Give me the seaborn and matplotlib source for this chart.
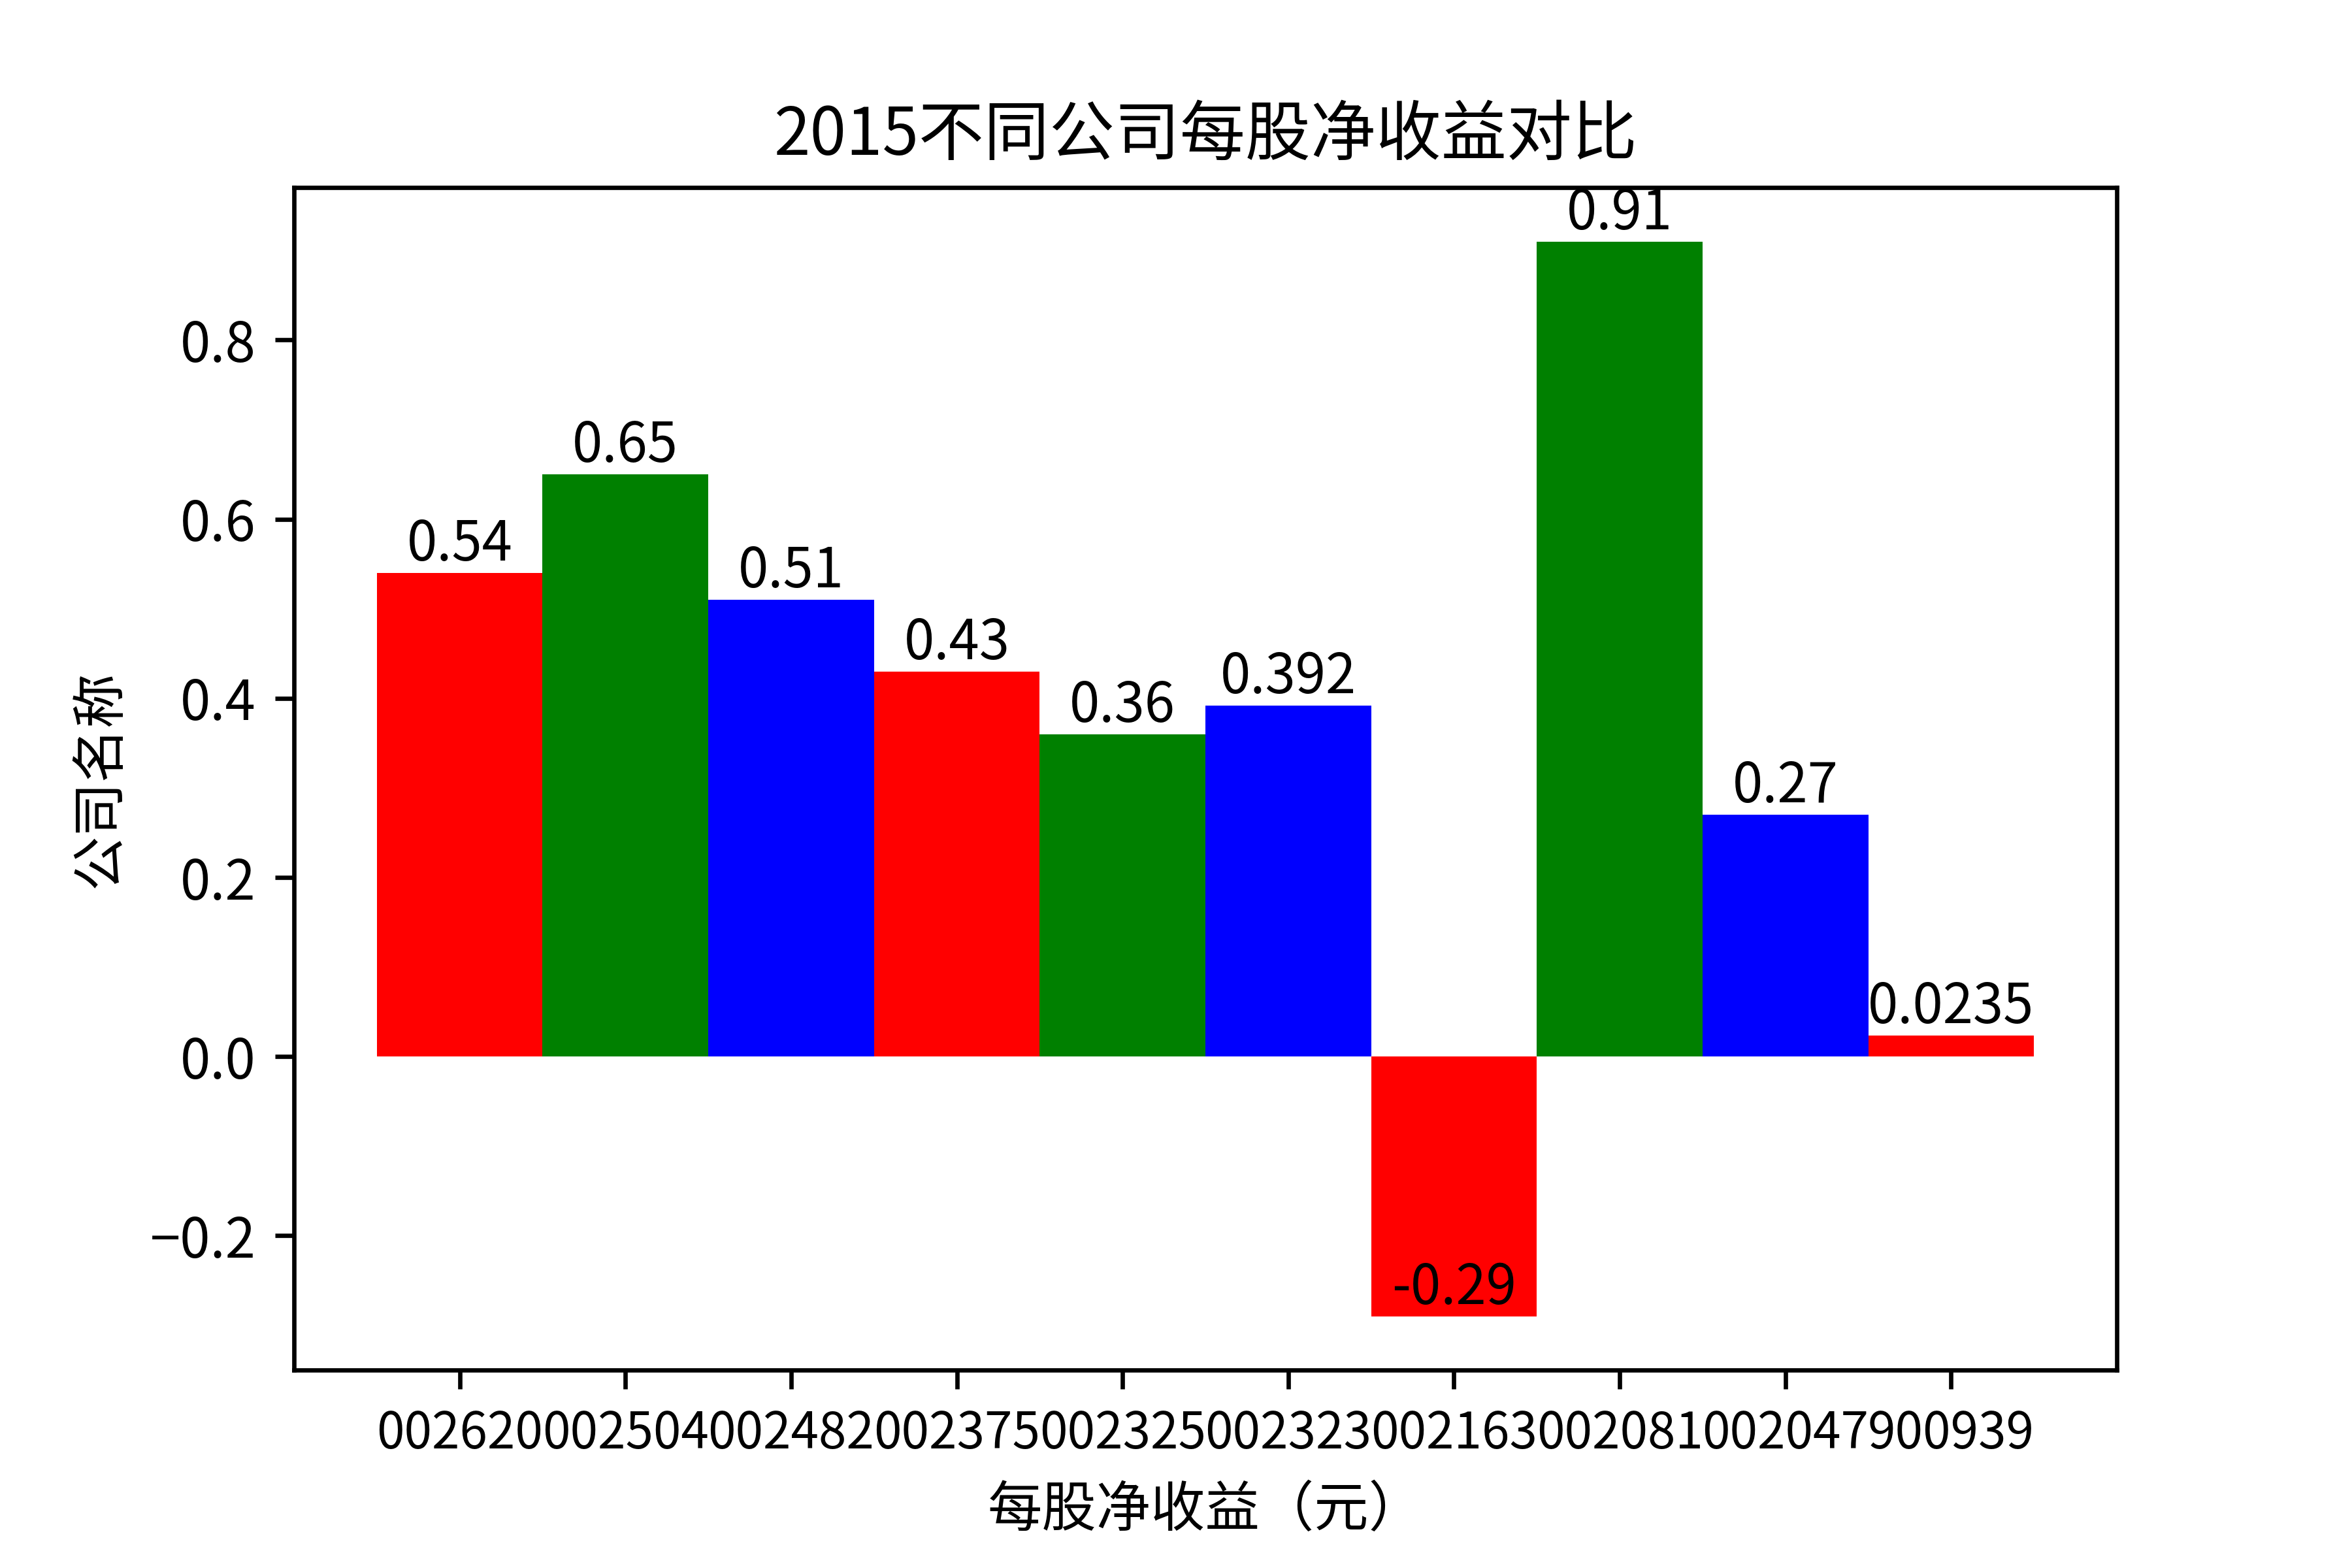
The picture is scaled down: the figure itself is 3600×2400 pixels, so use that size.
import matplotlib
matplotlib.use("Agg")
import matplotlib.pyplot as plt
import seaborn as sns
import pandas as pd

codes = ["002620", "002504", "002482", "002375", "002325",
         "002323", "002163", "002081", "002047", "900939"]
eps = [0.54, 0.65, 0.51, 0.43, 0.36, 0.392, -0.29, 0.91, 0.27, 0.0235]
colors = ["red", "green", "blue", "red", "green",
          "blue", "red", "green", "blue", "red"]
title = "2015不同公司每股净收益对比"
xlabel = "每股净收益（元）"
ylabel = "公司名称"

plt.rcParams["font.family"] = ["Noto Sans CJK SC", "DejaVu Sans"]
plt.rcParams["axes.unicode_minus"] = True

df = pd.DataFrame({"code": codes, "eps": eps})

fig = plt.figure(figsize=(6, 4), dpi=600)
ax = fig.add_axes([0.125, 0.1263, 0.775, 0.754])

sns.barplot(data=df, x="code", y="eps", hue="code", palette=colors,
            order=codes, hue_order=codes, width=1, saturation=1,
            linewidth=0, legend=False, ax=ax)

for i, v in enumerate(eps):
    ax.text(i, v, str(v), ha="center", va="bottom", fontsize=10)

ax.set_xlim(-1, 10)
ax.set_ylim(-0.35, 0.97)
ax.set_yticks([-0.2, 0.0, 0.2, 0.4, 0.6, 0.8])
ax.tick_params(axis="y", labelsize=10)
ax.tick_params(axis="x", labelsize=9.2)
ax.set_title(title, fontsize=12)
ax.set_xlabel(xlabel, fontsize=10)
ax.set_ylabel(ylabel, fontsize=10)

fig.savefig("out.png", dpi=600)
